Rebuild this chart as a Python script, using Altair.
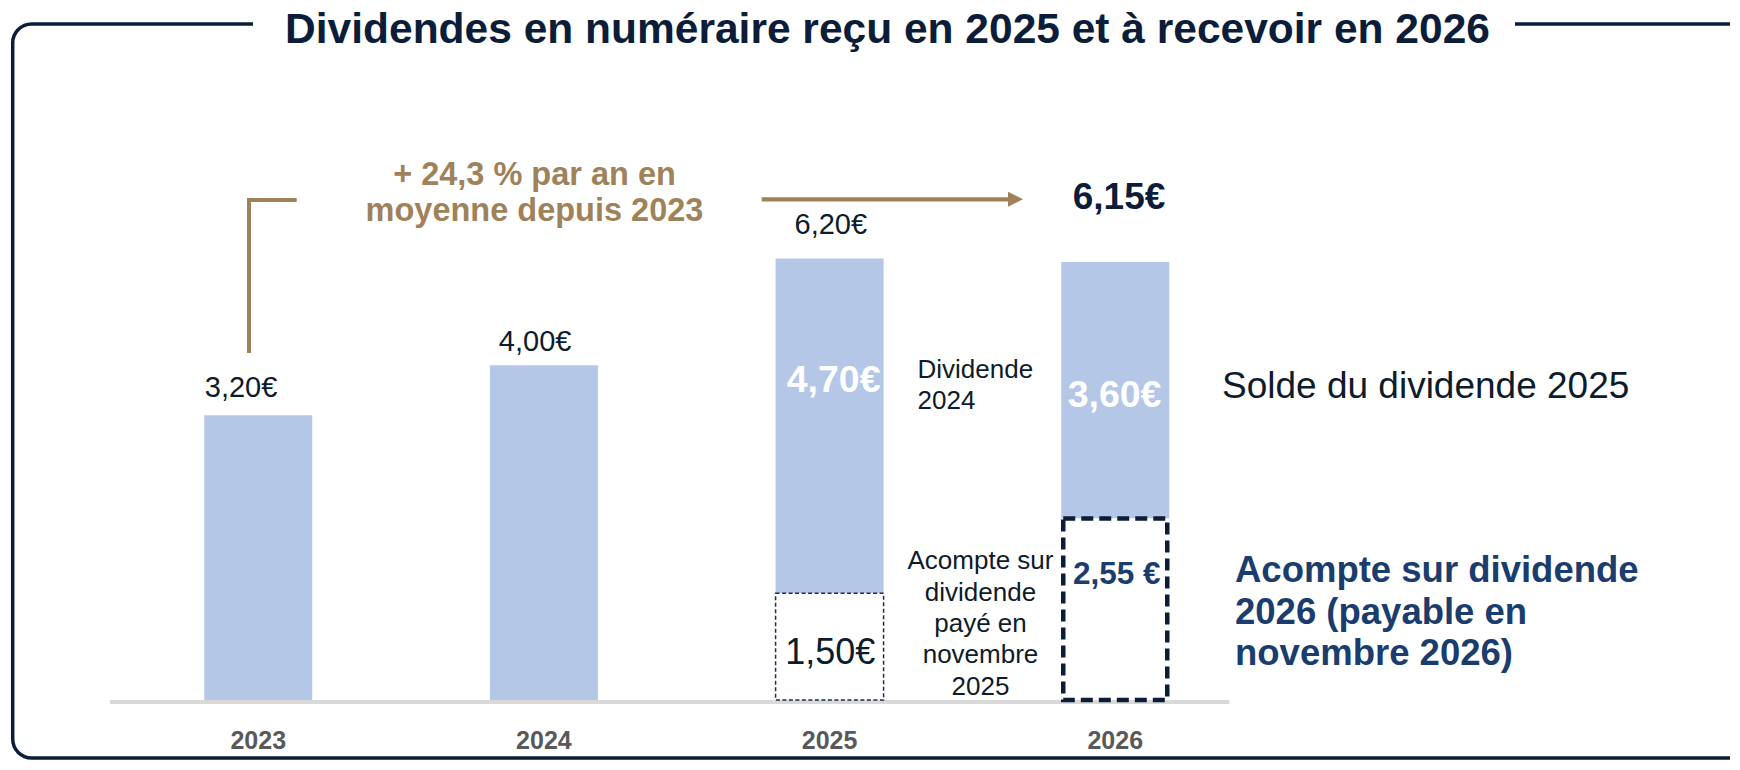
import altair as alt
import pandas as pd

# ---------------- data ----------------
years = [2023, 2024, 2025, 2026]
year_labels = ["2023", "2024", "2025", "2026"]
total_labels = ["3,20€", "4,00€", "6,20€", "6,15€"]
# bar tops as drawn in the reference (2023/2024 bars are drawn taller than their labels)
bar_tops = [4.00, 4.70, 6.20, 6.15]
interim = [0.0, 0.0, 1.50, 2.55]          # acompte part (white dashed boxes)
interim_labels = ["", "", "1,50€", "2,55 €"]
balance_labels = ["", "", "4,70€", "3,60€"]

title = "Dividendes en numéraire reçu en 2025 et à recevoir en 2026"
growth_text = ["+ 24,3 % par an en", "moyenne depuis 2023"]
note_2024 = ["Dividende", "2024"]
note_interim_2025 = ["Acompte sur", "dividende", "payé en", "novembre", "2025"]
legend_balance = "Solde du dividende 2025"
legend_interim = ["Acompte sur dividende", "2026 (payable en", "novembre 2026)"]

# ---------------- styling ----------------
FONT = "Liberation Sans"
NAVY = "#0b1d39"
TEXT = "#0d1b2a"
TAN = "#a0825a"
BLUE = "#b4c7e7"
MIDNAVY = "#1a3d6e"
GREY = "#595959"

W, H = 1722, 752
BASE_PX = 692.0          # pixel row of value 0
PX_PER_UNIT = 71.2
FIRST_PX = 246.7         # pixel column of first category
STEP_PX = 287.33

xs = alt.Scale(domain=[years[0] - FIRST_PX / STEP_PX, years[0] + (W - FIRST_PX) / STEP_PX], nice=False, zero=False)
ys = alt.Scale(domain=[-(H - BASE_PX) / PX_PER_UNIT, BASE_PX / PX_PER_UNIT], nice=False, zero=False)

one = pd.DataFrame({"k": [0]})


def txt(text, x, y, size, weight="normal", color=TEXT, align="center", baseline="middle", lh=None):
    kw = dict(text=text, fontSize=size, fontWeight=weight, color=color, align=align,
              baseline=baseline, font=FONT)
    if lh:
        kw["lineHeight"] = lh
    return alt.Chart(one).mark_text(**kw).encode(x=alt.value(x), y=alt.value(y))


def vtxt(text, year, y, size, dx=0, weight="normal", color=TEXT):
    return alt.Chart(one).mark_text(text=text, fontSize=size, fontWeight=weight, color=color,
                                    align="center", baseline="middle", font=FONT, dx=dx).encode(
        x=alt.XDatum(year, type="quantitative", scale=xs, axis=None),
        y=alt.value(y))


# frame with rounded corners and title gap
frame = alt.Chart(one).mark_rect(cornerRadius=19, stroke=NAVY, strokeWidth=3.5, fillOpacity=0).encode(
    x=alt.value(4.7), x2=alt.value(1800), y=alt.value(16), y2=alt.value(750))
gap = alt.Chart(one).mark_rect(fill="white").encode(
    x=alt.value(245), x2=alt.value(1507), y=alt.value(4), y2=alt.value(28))
title_t = txt(title, 879.5, 34.5, 42.5, weight="bold", color=NAVY, baseline="alphabetic")

# baseline
baseline = alt.Chart(one).mark_rule(color="#d9d9d9", strokeWidth=4).encode(
    x=alt.value(102), x2=alt.value(1221.5), y=alt.value(694))

# bars
bars_df = pd.DataFrame({"year": years, "base": interim, "top": bar_tops})
bars = alt.Chart(bars_df).mark_bar(size=108, color=BLUE).encode(
    x=alt.X("year:Q", scale=xs, axis=None),
    y=alt.Y("top:Q", scale=ys, axis=None),
    y2="base:Q")

thin_df = pd.DataFrame({"year": [years[2]], "top": [interim[2]], "zero": [0.0]})
thin_box = alt.Chart(thin_df).mark_bar(size=108, fill="white", stroke="#1f2d47", strokeWidth=1.5,
                                      strokeDash=[4, 2.5]).encode(
    x=alt.X("year:Q", scale=xs, axis=None),
    y=alt.Y("top:Q", scale=ys, axis=None),
    y2="zero:Q")

thick_df = pd.DataFrame({"year": [years[3]], "top": [interim[3]], "zero": [0.0]})
thick_box = alt.Chart(thick_df).mark_bar(size=104, fill="white", stroke=NAVY, strokeWidth=4.5,
                                        strokeDash=[12, 6]).encode(
    x=alt.X("year:Q", scale=xs, axis=None),
    y=alt.Y("top:Q", scale=ys, axis=None),
    y2="zero:Q")

# year labels
year_df = pd.DataFrame({"year": years, "label": year_labels})
year_t = alt.Chart(year_df).mark_text(fontSize=25, fontWeight="bold", color=GREY, font=FONT,
                                      baseline="middle").encode(
    x=alt.X("year:Q", scale=xs, axis=None), y=alt.value(732.5), text="label:N")

# value labels
v1 = vtxt(total_labels[0], years[0], 379.7, 29, dx=-17.2)
v2 = vtxt(total_labels[1], years[1], 334.4, 29, dx=-8.8)
v3 = vtxt(total_labels[2], years[2], 216.7, 29, dx=1.2)
v4 = vtxt(total_labels[3], years[3], 190.2, 37, dx=3.8, weight="bold", color=NAVY)
b3 = vtxt(balance_labels[2], years[2], 372.6, 37.5, dx=4, weight="bold", color="white")
b4 = vtxt(balance_labels[3], years[3], 387.5, 37.5, dx=-0.7, weight="bold", color="white")
i3 = vtxt(interim_labels[2], years[2], 645.2, 36, dx=0.7)
i4 = vtxt(interim_labels[3], years[3], 567.1, 31.5, dx=1.6, weight="bold", color=MIDNAVY)

# growth annotation: bracket, text and arrow
br_v = alt.Chart(one).mark_rule(color=TAN, strokeWidth=4).encode(
    x=alt.value(241), y=alt.value(190), y2=alt.value(345))
br_h = alt.Chart(one).mark_rule(color=TAN, strokeWidth=4).encode(
    x=alt.value(239), x2=alt.value(288.7), y=alt.value(192))
growth = txt(growth_text, 526.5, 177, 32.5, weight="bold", color=TAN, baseline="alphabetic", lh=35.5)
arrow_line = alt.Chart(one).mark_rule(color=TAN, strokeWidth=4.3).encode(
    x=alt.value(753.7), x2=alt.value(1002), y=alt.value(191.3))
arrow_head = alt.Chart(one).mark_point(shape="M-1,-1L1,0L-1,1Z", size=225, filled=True,
                                       color=TAN, opacity=1).encode(
    x=alt.value(1007.5), y=alt.value(191.3))

# side notes
n2024 = txt(note_2024, 909.5, 369.5, 26, align="left", baseline="alphabetic", lh=31.6)
n2025 = txt(note_interim_2025, 972.5, 561.3, 26, baseline="alphabetic", lh=31.4)
solde = txt(legend_balance, 1214, 378.5, 37, align="left")
acompte = txt(legend_interim, 1227, 574, 36.5, weight="bold", color=MIDNAVY, align="left",
              baseline="alphabetic", lh=41.6)

chart = alt.layer(
    frame, gap, title_t, baseline, bars, thin_box, thick_box, year_t,
    v1, v2, v3, v4, b3, b4, i3, i4,
    br_v, br_h, growth, arrow_line, arrow_head,
    n2024, n2025, solde, acompte,
).properties(
    width=W, height=H, padding=0,
    autosize=alt.AutoSizeParams(type="none"),
).configure_view(strokeWidth=0)

chart.save("out.html", embed_options={"renderer": "svg", "actions": False})
